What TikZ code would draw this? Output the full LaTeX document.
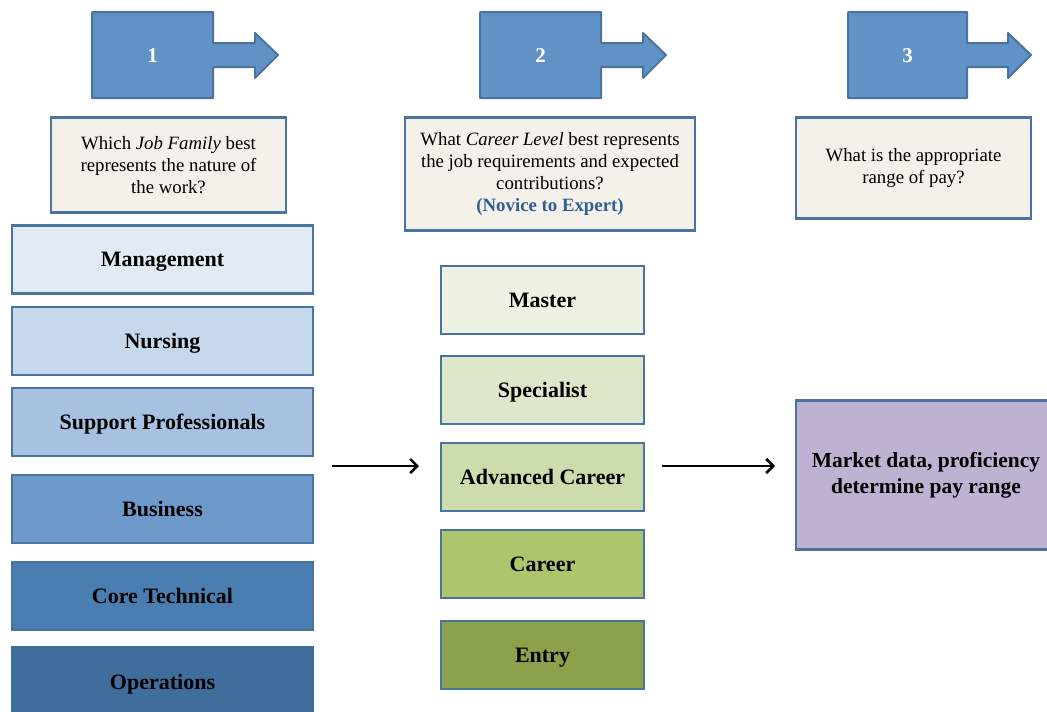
\documentclass[tikz,border=0pt]{standalone}
\usepackage{fontspec}
\setmainfont{Liberation Serif}
\usepackage{tikz}
\usetikzlibrary{positioning}
\usetikzlibrary{arrows.meta}

\definecolor{edgeblue}{RGB}{74,115,160}
\definecolor{stepblue}{RGB}{96,146,198}
\definecolor{askfill}{RGB}{243,241,234}
\definecolor{novblue}{RGB}{47,95,149}
\definecolor{famA}{RGB}{226,235,245}
\definecolor{famB}{RGB}{197,216,236}
\definecolor{famC}{RGB}{166,194,224}
\definecolor{famD}{RGB}{110,154,203}
\definecolor{famE}{RGB}{74,126,177}
\definecolor{famF}{RGB}{63,109,156}
\definecolor{lvlA}{RGB}{238,242,226}
\definecolor{lvlB}{RGB}{221,231,201}
\definecolor{lvlC}{RGB}{205,220,172}
\definecolor{lvlD}{RGB}{173,197,108}
\definecolor{lvlE}{RGB}{139,161,75}
\definecolor{payfill}{RGB}{191,177,210}

\tikzset{
  stepshape/.style={fill=stepblue, draw=edgeblue, line width=2pt, line join=round},
  stepnum/.style={text=white, font=\fontsize{21}{24}\selectfont\bfseries},
  askbox/.style={draw=edgeblue, fill=askfill, line width=2.5pt, align=center,
    font=\fontsize{18.8}{22}\selectfont},
  family/.style={draw=edgeblue, line width=2.5pt, minimum width=301pt, minimum height=68pt,
    text height=18pt, text depth=4pt, font=\fontsize{22}{25}\selectfont\bfseries},
  level/.style={draw=edgeblue, line width=2.5pt, minimum width=203pt, minimum height=68pt,
    text height=18pt, text depth=4pt, font=\fontsize{22}{25}\selectfont\bfseries},
  flow/.style={-{Straight Barb[length=7pt,width=14pt]}, line width=2.6pt}
}

\begin{document}
\begin{tikzpicture}[x=1pt, y=-1pt]
\useasboundingbox (0,0) rectangle (1047,712);
%step arrows
\filldraw[stepshape] (92,12) -- (213,12) -- (213,43) -- (255,43) -- (255,33) -- (278,55) -- (255,78) -- (255,67) -- (213,67) -- (213,98) -- (92,98) -- cycle;
\filldraw[stepshape] (480,12) -- (601,12) -- (601,43) -- (643,43) -- (643,33) -- (666,55) -- (643,78) -- (643,67) -- (601,67) -- (601,98) -- (480,98) -- cycle;
\filldraw[stepshape] (848,12) -- (967,12) -- (967,43) -- (1008,43) -- (1008,33) -- (1031,55) -- (1008,78) -- (1008,67) -- (967,67) -- (967,98) -- (848,98) -- cycle;
\node[stepnum] (num1) at (152.5,56) {1};
\node[stepnum] (num2) at (540.5,56) {2};
\node[stepnum] (num3) at (907.5,56) {3};

%questions
\node[askbox, minimum width=235pt, minimum height=95pt] (ask1) at (168.5,165)
  {Which \textit{Job Family} best\\represents the nature of\\the work?};
\node[askbox, minimum width=290pt, minimum height=113pt] (ask2) at (550,174)
  {What \textit{Career Level} best represents\\the job requirements and expected\\contributions?\\
   \textcolor{novblue}{\textbf{(Novice to Expert)}}};
\node[askbox, minimum width=235pt, minimum height=101pt] (ask3) at (913.5,168)
  {What is the appropriate\\range of pay?};

%job families
\node[family, fill=famA] (mgmt) at (162.5,259.5) {Management};
\node[family, fill=famB] (nurse) at (162.5,341) {Nursing};
\node[family, fill=famC] (supp) at (162.5,422) {Support Professionals};
\node[family, fill=famD] (bus) at (162.5,509) {Business};
\node[family, fill=famE] (core) at (162.5,596) {Core Technical};
\node[family, fill=famF, draw=famF, minimum height=70pt] (ops) at (162.5,682) {Operations};

%career levels
\node[level, fill=lvlA] (master) at (542.5,300) {Master};
\node[level, fill=lvlB] (spec) at (542.5,390) {Specialist};
\node[level, fill=lvlC] (adv) at (542.5,477) {Advanced Career};
\node[level, fill=lvlD] (career) at (542.5,564) {Career};
\node[level, fill=lvlE] (entry) at (542.5,655) {Entry};

%pay
\node[draw=edgeblue, fill=payfill, line width=2.5pt, minimum width=260pt, minimum height=149pt,
  align=center, font=\fontsize{21.5}{26}\selectfont\bfseries] (pay) at (926,475)
  {Market data, proficiency\\determine pay range};

%flow arrows
\coordinate (fromfam) at (332,466);
\coordinate (tolvl) at (419,466);
\coordinate (fromlvl) at (662,466);
\coordinate (topay) at (775,466);
\draw[flow] (fromfam) -- (tolvl);
\draw[flow] (fromlvl) -- (topay);

\end{tikzpicture}
\end{document}
